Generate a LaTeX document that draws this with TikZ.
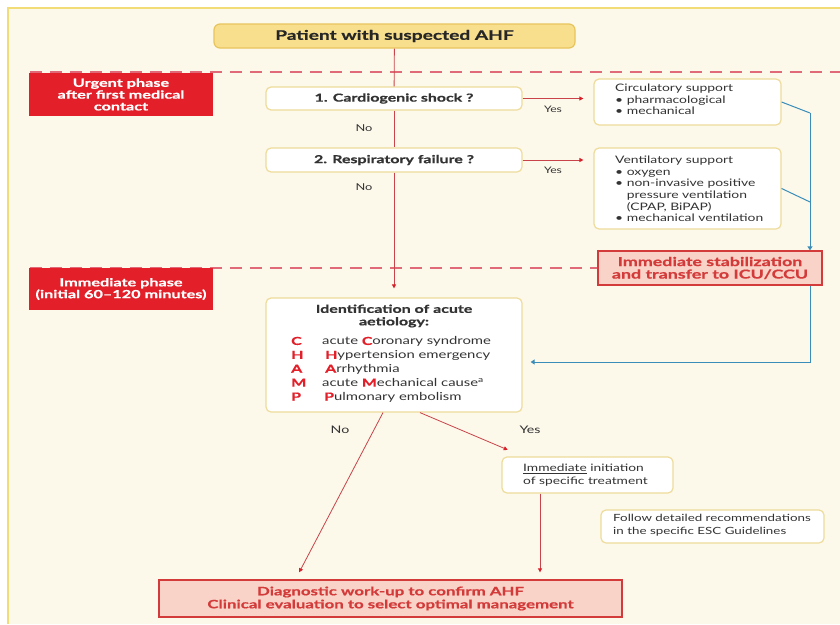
\documentclass[tikz,border=0pt]{standalone}
\usepackage{fontspec}
\setmainfont{Lato}[FakeStretch=1.35]
\newfontfamily\hv{Lato Bold}[FakeStretch=1.45,FakeBold=0.8,Ligatures=TeX]
\usetikzlibrary{arrows.meta}
\definecolor{cream}{HTML}{FCF8EA}
\definecolor{frameY}{HTML}{F2DC78}
\definecolor{topfill}{HTML}{F8DF8E}
\definecolor{topdraw}{HTML}{E8C45C}
\definecolor{boxdraw}{HTML}{EEDC9A}
\definecolor{phasered}{HTML}{E3202A}
\definecolor{dashred}{HTML}{E06A78}
\definecolor{linered}{HTML}{C8444A}
\definecolor{tipred}{HTML}{D8202A}
\definecolor{blueline}{HTML}{3A8DB8}
\definecolor{pinkfill}{HTML}{F9D3C8}
\definecolor{pinkdraw}{HTML}{D33B3B}
\definecolor{txt}{HTML}{333333}
\tikzset{
  px/.style={x=1pt,y=-1pt},
  wbox/.style={draw=boxdraw,line width=1.2pt,fill=white,rounded corners=5pt,inner sep=0pt,text=txt},
  phase/.style={fill=phasered,text=white,font=\hv\fontsize{11.2}{11.8}\selectfont,align=center,inner sep=0pt},
  pbox/.style={draw=pinkdraw,line width=1.3pt,fill=pinkfill,text=pinkdraw,font=\hv\fontsize{11.6}{13}\selectfont,align=center,inner sep=0pt},
  rline/.style={draw=linered,line width=0.8pt,-{Triangle[length=4pt,width=4pt,color=tipred]}},
  bline/.style={draw=blueline,line width=1pt},
  dline/.style={draw=dashred,line width=1.3pt,dash pattern=on 12pt off 8pt},
  lab/.style={text=txt,font=\fontsize{9}{11}\selectfont,inner sep=0pt},
  qtext/.style={font=\hv\fontsize{11}{12}\selectfont},
  ltext/.style={font=\fontsize{10.3}{11.6}\selectfont,align=left},
}
\newcommand{\rb}[1]{\textcolor{phasered}{\hv #1}}
\newcommand{\bul}{•\ }
\newcommand{\ind}{\hphantom{•\ }}
\begin{document}
\begin{tikzpicture}[px]
\useasboundingbox (0,0) rectangle (840,624);
\fill[white] (0,0) rectangle (840,624);
\fill[cream] (8,8) rectangle (840,624);
\draw[frameY,line width=1.5pt] (8,624) -- (8,8) -- (840,8);

% dashed phase lines
\coordinate (d1e) at (840,72);
\coordinate (d2e) at (598,268);
\draw[dline] (30,72) -- (d1e);
\draw[dline] (30,268) -- (d2e);

% phase boxes
\node[phase,minimum width=184pt,minimum height=43pt] (urgent) at (121,94.5) {Urgent phase\\after first medical\\contact};
\node[phase,minimum width=184pt,minimum height=42pt] (immph) at (121,289) {Immediate phase\\(initial 60–120 minutes)};

% top box
\node[draw=topdraw,line width=1.2pt,fill=topfill,rounded corners=6pt,minimum width=361pt,minimum height=24pt,inner sep=0pt,text=black!85,font=\hv\fontsize{13.2}{14}\selectfont] (top) at (394.5,36) {Patient with suspected AHF};

% question boxes
\node[wbox,qtext,minimum width=256pt,minimum height=23pt] (card) at (394,98.5) {1. Cardiogenic shock ?};
\node[wbox,qtext,minimum width=256pt,minimum height=24pt] (resp) at (394,160) {2. Respiratory failure ?};

% support boxes
\node[wbox,minimum width=187pt,minimum height=46pt] (circ) at (687.5,102) {};
\node[ltext,text=txt,anchor=north west,inner sep=0pt] (circt) at (615,84) {Circulatory support\\\bul pharmacological\\\bul mechanical};
\node[wbox,minimum width=187pt,minimum height=81pt] (vent) at (687.5,188.5) {};
\node[ltext,text=txt,anchor=north west,inner sep=0pt] (ventt) at (615,156) {Ventilatory support\\\bul oxygen\\\bul non-invasive positive\\\ind pressure ventilation\\\ind (CPAP, BiPAP)\\\bul mechanical ventilation};

% stabilization
\node[pbox,minimum width=224pt,minimum height=34pt,font=\hv\fontsize{12.3}{12.5}\selectfont] (stab) at (710,268) {Immediate stabilization\\and transfer to ICU/CCU};

% identification box
\node[wbox,minimum width=256pt,minimum height=114pt] (ident) at (394,355) {};
\node[text=txt,font=\hv\fontsize{11}{12.5}\selectfont,align=center,inner sep=0pt] (identt) at (394,316) {Identification of acute\\aetiology:};
\node[text=txt,anchor=north west,inner sep=0pt,font=\fontsize{11}{13.9}\selectfont] (champ) at (291,335)
{\begin{tabular}{@{}p{31pt}@{}l@{}}
\rb{C} & acute \rb{C}oronary syndrome\\
\rb{H} & \hspace{3pt}\rb{H}ypertension emergency\\
\rb{A} & \hspace{3pt}\rb{A}rrhythmia\\
\rb{M} & acute \rb{M}echanical cause\textsuperscript{a}\\
\rb{P} & \hspace{2pt}\rb{P}ulmonary embolism
\end{tabular}};

% lower boxes
\node[wbox,minimum width=171pt,minimum height=36pt] (imm) at (587.5,475) {};
\node[text=txt,anchor=north west,inner sep=0pt,font=\fontsize{10.2}{12.5}\selectfont,align=left] (immt) at (523,464) {\underline{Immediate} initiation\\of specific treatment};
\node[wbox,minimum width=223pt,minimum height=33pt] (follow) at (712.5,526.5) {};
\node[text=txt,anchor=north west,inner sep=0pt,font=\fontsize{9.9}{12.5}\selectfont,align=left] (followt) at (613,514) {Follow detailed recommendations\\in the specific ESC Guidelines};
\node[pbox,minimum width=463pt,minimum height=37pt] (diag) at (390.5,598.5) {Diagnostic work-up to confirm AHF\\Clinical evaluation to select optimal management};

% main flow
\draw[draw=linered,line width=0.8pt] (top) -- (card);
\draw[draw=linered,line width=0.8pt] (card) -- (resp);
\draw[rline,shorten >=9pt] (resp) -- (ident);
\node[lab,font=\fontsize{9.5}{11}\selectfont] (no1) at (364,128) {No};
\node[lab,font=\fontsize{9.5}{11}\selectfont] (no2) at (364,187) {No};

\draw[rline,shorten >=10pt] (card.east) -- (circ.west |- card.east);
\draw[rline,shorten >=10pt] (resp.east) -- (vent.west |- resp.east);
\node[lab] (yes1) at (553,109) {Yes};
\node[lab] (yes2) at (553,170) {Yes};

% blue connectors
\coordinate (bj1) at (810,113);
\coordinate (bj2) at (810,202);
\coordinate (bc) at (810,362);
\draw[bline] (circ.east) -- (bj1);
\draw[bline] (vent.east) -- (bj2);
\draw[bline,-{Triangle[length=4pt,width=5pt]}] (bj1) -- (bj1 |- stab.north);
\draw[bline,shorten >=8pt,-{Triangle[length=4pt,width=5pt]}] (bj1 |- stab.south) -- (bc) -- (ident.east |- bc);

% outcomes
\draw[rline,shorten >=8pt] ([xshift=-11pt]ident.south) -- ([xshift=-95pt]diag.north);
\draw[rline,shorten >=4pt] ([xshift=26pt]ident.south) -- ([xshift=10pt,yshift=5pt]imm.north west);
\node[lab,font=\fontsize{10.5}{12}\selectfont] (no3) at (340,430) {No};
\node[lab,font=\fontsize{10.5}{12}\selectfont] (yes3) at (530,430) {Yes};
\draw[rline,shorten >=7pt] ([xshift=-47.5pt]imm.south) -- ([xshift=-47.5pt]imm.south |- diag.north);
\end{tikzpicture}
\end{document}
